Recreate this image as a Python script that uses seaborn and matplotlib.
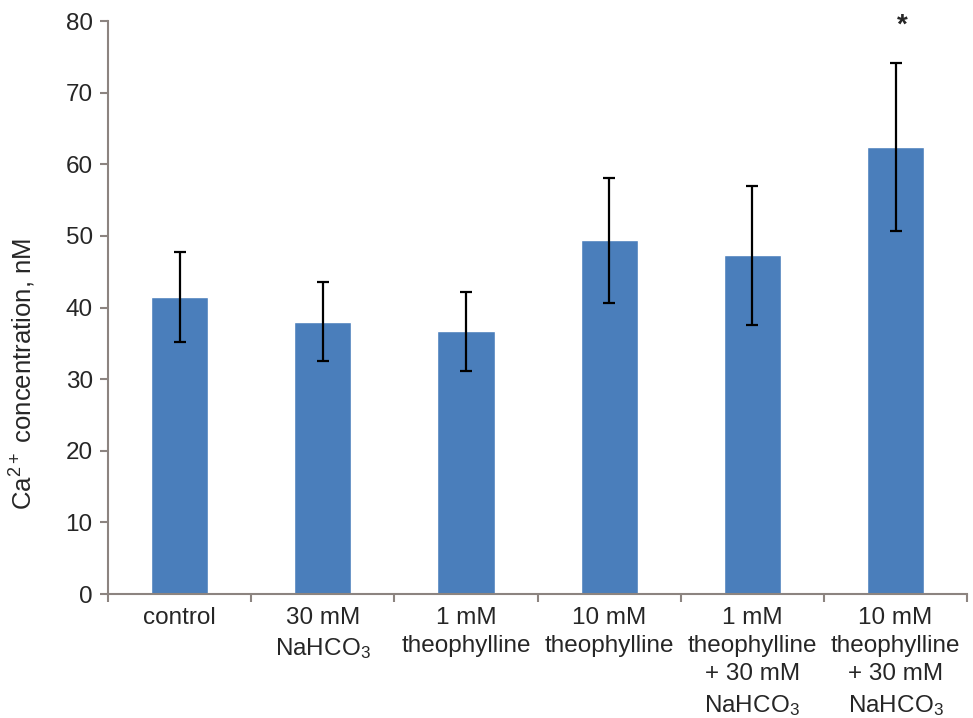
import matplotlib
matplotlib.use("Agg")
import matplotlib.pyplot as plt
import seaborn as sns
import pandas as pd
import numpy as np

categories = ["control", "30 mM\nNaHCO$_3$", "1 mM\ntheophylline", "10 mM\ntheophylline",
              "1 mM\ntheophylline\n+ 30 mM\nNaHCO$_3$", "10 mM\ntheophylline\n+ 30 mM\nNaHCO$_3$"]
means = [41.5, 38.0, 36.7, 49.4, 47.3, 62.4]
errors = [6.3, 5.5, 5.5, 8.7, 9.7, 11.7]
significance = ["", "", "", "", "", "*"]
y_ticks = [0, 10, 20, 30, 40, 50, 60, 70, 80]

sns.set_theme(style="white")
plt.rcParams['font.family'] = ['Liberation Sans', 'DejaVu Sans']
plt.rcParams['mathtext.fontset'] = 'custom'
plt.rcParams['mathtext.rm'] = 'Liberation Sans'
plt.rcParams['mathtext.it'] = 'Liberation Sans:italic'

df = pd.DataFrame({"cat": categories, "mean": means})

fig = plt.figure(figsize=(9.73, 7.18), dpi=100)
ax = fig.add_axes([0.111, 0.1727, 0.883, 0.798])

bar_color = "#4A7EBB"
sns.barplot(data=df, x="cat", y="mean", color=bar_color, width=0.4, saturation=1, ax=ax)
ax.errorbar(np.arange(len(means)), means, yerr=errors, fmt="none", ecolor="black",
            elinewidth=1.6, capsize=4, capthick=1.6)
for i, s in enumerate(significance):
    if s:
        ax.text(i + 0.05, 79.4, s, ha="center", va="center", fontsize=20, fontweight="bold", clip_on=False)

ax.set_xlim(-0.5, len(categories) - 0.5)
ax.set_ylim(0, 80)
ax.set_yticks(y_ticks)
ax.set_xlabel("")
ax.set_ylabel("Ca$^{2+}$ concentration, nM", fontsize=18.5)
ax.yaxis.set_label_coords(-0.082, 0.384)
ax.tick_params(axis="y", labelsize=17.5, length=6, width=1.5, color="#8c8480", direction="out", pad=5, left=True)
ax.set_xticks(np.arange(len(categories)))
ax.set_xticklabels(categories, fontsize=17.5, linespacing=1.38)
ax.tick_params(axis="x", which="major", length=0, pad=9)
ax.set_xticks(np.arange(-0.5, len(categories)), minor=True)
ax.tick_params(axis="x", which="minor", length=6, width=1.5, color="#8c8480", direction="out", bottom=True)
for sp in ["top", "right"]:
    ax.spines[sp].set_visible(False)
for sp in ["left", "bottom"]:
    ax.spines[sp].set_color("#8c8480")
    ax.spines[sp].set_linewidth(1.5)

fig.savefig("out.png", dpi=100)
